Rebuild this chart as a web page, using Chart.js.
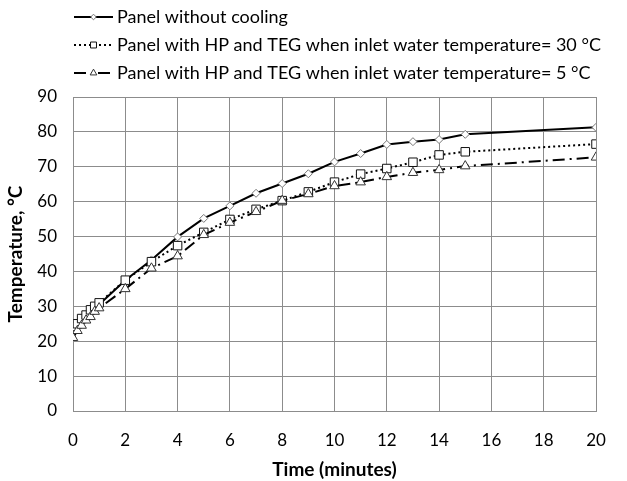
<!DOCTYPE html>
<html>
<head>
<meta charset="utf-8">
<script src="https://cdn.jsdelivr.net/npm/chart.js@4/dist/chart.umd.min.js"></script>
<style>
  html, body { margin: 0; padding: 0; background: #fff; }
  #wrap { width: 627px; height: 481px; }
</style>
</head>
<body>
<div id="wrap"><canvas id="tempChart" width="627" height="481"></canvas></div>
<script>
// Time in minutes, temperature in °C
const TIMES = [0, 0.17, 0.33, 0.5, 0.67, 0.83, 1, 2, 3, 4, 5, 6, 7, 8, 9, 10, 11, 12, 13, 14, 15, 20];
const NO_COOLING = [24, 25, 26, 27, 28, 29.5, 30.5, 37.5, 43.3, 49.9, 55.2, 58.8, 62.4, 65.2, 68, 71.4, 73.8, 76.4, 77.2, 77.8, 79.3, 81.3];
const HP_TEG_30 = [24.2, 25, 26.5, 27.5, 29, 30, 31, 37.5, 42.8, 47.4, 51.2, 54.9, 57.8, 60.3, 62.8, 65.6, 67.9, 69.5, 71.3, 73.4, 74.3, 76.5];
const HP_TEG_5 = [21, 23, 24.5, 26, 27, 28.5, 29.5, 35, 40.9, 44.4, 50.5, 54, 57.1, 60.3, 62.2, 64.5, 65.6, 67.1, 68.3, 69.1, 70.2, 72.7];
const LABELS = [
  "Panel without cooling",
  "Panel with HP and TEG when inlet water temperature= 30 °C",
  "Panel with HP and TEG when inlet water temperature= 5 °C",
];

const FONT = "Lato, 'Open Sans', sans-serif";
const pts = (ys) => TIMES.map((t, i) => ({ x: t, y: ys[i] }));

const SERIES = [
  { data: NO_COOLING, dash: [], width: 2, point: "rectRot", radius: 4, stroke: "#777" },
  { data: HP_TEG_30, dash: [2, 3], width: 2, point: "rect", radius: 6, stroke: "#111" },
  { data: HP_TEG_5, dash: [12, 5, 2, 5], width: 2, point: "triangle", radius: 5.5, stroke: "#333" },
];

// legend drawn above the plot: line sample with marker, then text
const topLegend = {
  id: "topLegend",
  afterDraw(chart) {
    const ctx = chart.ctx;
    const rows = [17, 45, 73];
    ctx.save();
    SERIES.forEach((s, i) => {
      const y = rows[i];
      ctx.strokeStyle = "#000";
      ctx.lineWidth = s.width;
      ctx.setLineDash(s.dash);
      ctx.beginPath();
      ctx.moveTo(74, y);
      ctx.lineTo(113, y);
      ctx.stroke();
      ctx.setLineDash([]);
      ctx.fillStyle = "#fff";
      ctx.strokeStyle = s.stroke;
      ctx.lineWidth = 1;
      Chart.helpers.drawPoint(ctx, {
        pointStyle: s.point, radius: s.radius * 0.7, borderWidth: 1,
      }, 93.5, y);
      ctx.fillStyle = "#000";
      ctx.font = "18px " + FONT;
      ctx.textBaseline = "middle";
      ctx.fillText(LABELS[i], 117, y);
    });
    ctx.restore();
  },
};

new Chart(document.getElementById("tempChart"), {
  type: "line",
  data: {
    datasets: SERIES.map((s, i) => ({
      label: LABELS[i],
      data: pts(s.data),
      borderColor: "#000",
      borderWidth: s.width,
      borderDash: s.dash,
      pointStyle: s.point,
      pointRadius: s.radius,
      pointBorderWidth: 1,
      pointBorderColor: s.stroke,
      pointBackgroundColor: "#fff",
      tension: 0,
      order: 3 - i,
    })),
  },
  options: {
    responsive: false,
    animation: false,
    layout: { padding: { top: 97, right: 31, left: 0, bottom: 0 } },
    plugins: { legend: { display: false }, tooltip: { enabled: false } },
    scales: {
      x: {
        type: "linear",
        min: 0,
        max: 20,
        ticks: { stepSize: 2, color: "#000", font: { family: FONT, size: 17 }, padding: 19 },
        grid: { color: "#8c8c8c", lineWidth: 1, drawTicks: false },
        border: { color: "#8c8c8c" },
        title: { display: true, text: "Time (minutes)", color: "#000", font: { family: FONT, size: 19, weight: "bold" }, padding: { top: 0, bottom: 0 } },
        afterFit(scale) { scale.height = 70; },
      },
      y: {
        min: 0,
        max: 90,
        ticks: { stepSize: 10, color: "#000", font: { family: FONT, size: 17 }, padding: 16 },
        grid: { color: "#8c8c8c", lineWidth: 1, drawTicks: false },
        border: { color: "#8c8c8c" },
        title: { display: true, text: "Temperature, °C", color: "#000", font: { family: FONT, size: 19, weight: "bold" }, padding: { bottom: 2 } },
        afterFit(scale) { scale.width = 73; },
      },
    },
  },
  plugins: [topLegend],
});
</script>
</body>
</html>
